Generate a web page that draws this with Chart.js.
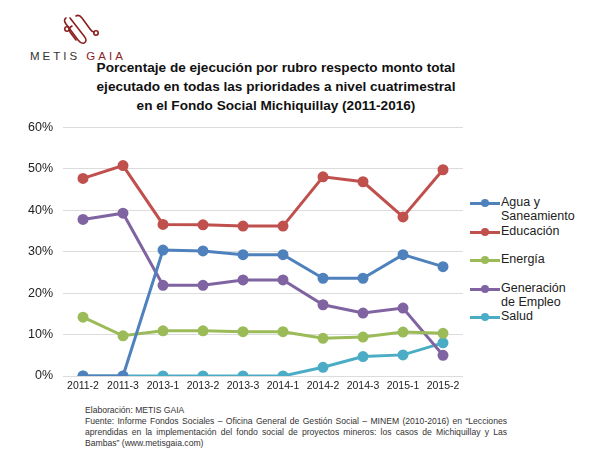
<!DOCTYPE html>
<html>
<head>
<meta charset="utf-8">
<script src="https://cdn.jsdelivr.net/npm/chart.js@4.4.1/dist/chart.umd.min.js"></script>
<style>
  body { margin: 0; width: 600px; height: 450px; background: #fff; font-family: "Liberation Sans", Arial, sans-serif; position: relative; overflow: hidden; }
  #logo { position: absolute; left: 30px; top: 12px; }
  #logo .name { position: absolute; left: 0; top: 38px; font-size: 11.5px; letter-spacing: 3px; white-space: nowrap; color: #333; }
  #logo .name span { color: #8b1e1e; }
  #title { position: absolute; left: 60px; width: 432px; top: 58px; text-align: center; font-weight: bold; font-size: 13.6px; line-height: 19px; color: #111; }
  #wrap { position: absolute; left: 0; top: 110px; width: 470px; height: 290px; }
  #legend { position: absolute; left: 470px; top: 189px; font-size: 12.5px; color: #222; }
  #legend .item { position: relative; height: 28.5px; }
  #legend .sw { position: absolute; left: 0; top: 13px; width: 30px; height: 3px; }
  #legend .sw i { position: absolute; left: 11px; top: -3px; width: 8px; height: 8px; border-radius: 50%; }
  #legend .txt { position: absolute; left: 31px; top: 6px; line-height: 14px; white-space: nowrap; }
  #foot { position: absolute; left: 85px; top: 405px; width: 422px; font-size: 8.6px; line-height: 11px; color: #333; }
  #foot p { margin: 0; text-align: justify; }
</style>
</head>
<body>
<div id="logo">
  <svg width="100" height="36" viewBox="0 0 100 36">
    <g fill="none" stroke="#8b1e1e" stroke-width="1.6" stroke-linecap="round">
      <path d="M40 6 L54 24 Q58 29 54 31 Q51 32 48 28 L36 12 Q33 8 36 6"/>
      <path d="M46 4 Q49 2 52 6 L60 17 Q62 20 64 20"/>
      <path d="M42 14 Q38 16 40 20 L46 28"/>
      <circle cx="37" cy="17" r="2.2"/>
      <circle cx="66" cy="21" r="2.2"/>
    </g>
  </svg>
  <div class="name">METIS <span>GAIA</span></div>
</div>
<div id="title">Porcentaje de ejecución por rubro respecto monto total<br>ejecutado en todas las prioridades a nivel cuatrimestral<br>en el Fondo Social Michiquillay (2011-2016)</div>
<div id="wrap"><canvas id="chart"></canvas></div>
<div id="legend"></div>
<div id="foot">
  <p>Elaboración: METIS GAIA</p>
  <p>Fuente: Informe Fondos Sociales – Oficina General de Gestión Social – MINEM (2010-2016) en “Lecciones aprendidas en la implementación del fondo social de proyectos mineros: los casos de Michiquillay y Las Bambas” (www.metisgaia.com)</p>
</div>
<script>
const periodos = ['2011-2', '2011-3', '2013-1', '2013-2', '2013-3', '2014-1', '2014-2', '2014-3', '2015-1', '2015-2'];

const agua       = [0, 0, 30.4, 30.2, 29.3, 29.3, 23.6, 23.6, 29.3, 26.4];
const educacion  = [47.7, 50.8, 36.6, 36.5, 36.2, 36.2, 48.1, 46.9, 38.4, 49.8];
const energia    = [14.2, 9.7, 10.9, 10.9, 10.7, 10.7, 9.1, 9.4, 10.6, 10.3];
const generacion = [37.8, 39.3, 21.9, 21.9, 23.2, 23.2, 17.2, 15.2, 16.4, 5.0];
const salud      = [0, 0, 0, 0, 0, 0, 2.1, 4.7, 5.1, 8.0];

const series = [
  { label: ['Agua y', 'Saneamiento'], data: agua, color: '#4f81bd' },
  { label: ['Educación'], data: educacion, color: '#c0504d' },
  { label: ['Energía'], data: energia, color: '#9bbb59' },
  { label: ['Generación', 'de Empleo'], data: generacion, color: '#8064a2' },
  { label: ['Salud'], data: salud, color: '#4bacc6' }
];

// legend built by hand because the labels wrap onto two lines
const legend = document.getElementById('legend');
series.forEach(s => {
  const item = document.createElement('div');
  item.className = 'item';
  item.innerHTML = '<div class="sw" style="background:' + s.color + '"><i style="background:' + s.color + '"></i></div>' +
    '<div class="txt">' + s.label.join('<br>') + '</div>';
  legend.appendChild(item);
});

new Chart(document.getElementById('chart'), {
  type: 'line',
  data: {
    labels: periodos,
    datasets: series.map(s => ({
      label: s.label.join(' '),
      data: s.data,
      borderColor: s.color,
      backgroundColor: s.color,
      borderWidth: 3,
      pointRadius: 4,
      pointHoverRadius: 4,
      tension: 0
    }))
  },
  options: {
    responsive: true,
    maintainAspectRatio: false,
    animation: false,
    layout: { padding: { top: 16, right: 7, left: 0, bottom: 0 } },
    plugins: { legend: { display: false }, tooltip: { enabled: false } },
    scales: {
      x: {
        offset: true,
        grid: { display: false, drawTicks: false },
        border: { display: false },
        ticks: { color: '#222', font: { family: 'Liberation Sans', size: 10.5 }, padding: 4, maxRotation: 0, autoSkip: false },
        afterFit: s => { s.height = 24; }
      },
      y: {
        min: 0,
        max: 60,
        grid: { color: '#dcdcdc', lineWidth: 1, drawTicks: false },
        border: { display: false },
        ticks: { stepSize: 10, color: '#222', font: { family: 'Liberation Sans', size: 12.5 }, padding: 10, callback: v => v + '%' },
        afterFit: s => { s.width = 63; }
      }
    }
  }
});
</script>
</body>
</html>
